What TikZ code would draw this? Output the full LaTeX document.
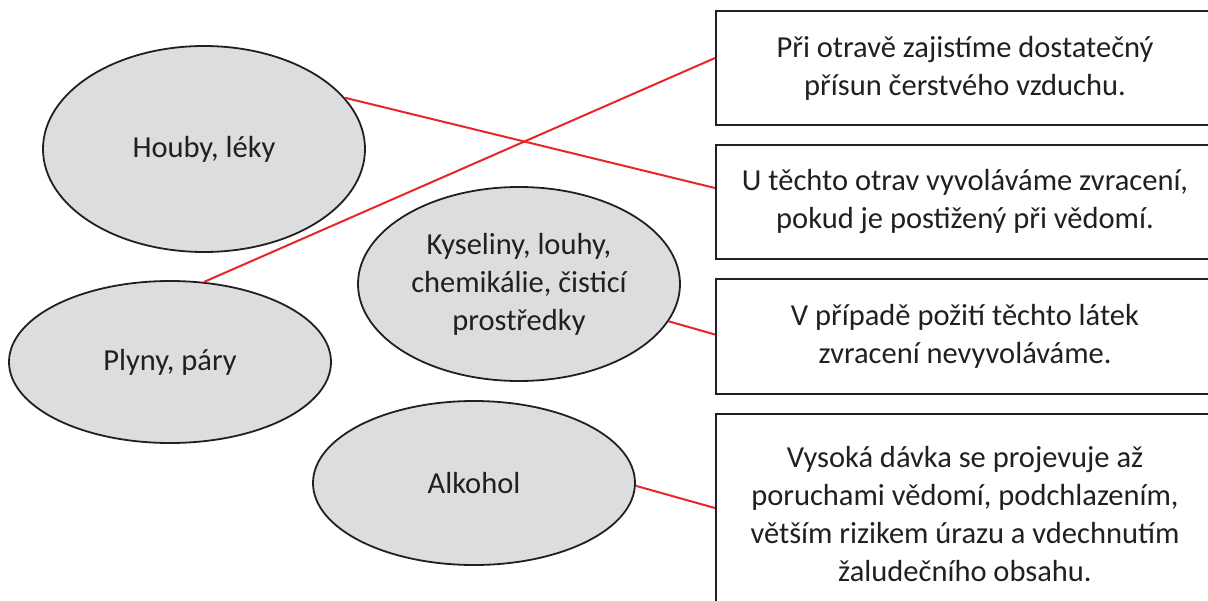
\documentclass[tikz,border=0pt]{standalone}
\usepackage{fontspec}
\setmainfont{Carlito}
\usetikzlibrary{shapes.geometric,calc}
\definecolor{ink}{HTML}{231F20}
\definecolor{bubble}{HTML}{DCDDDF}
\definecolor{link}{HTML}{E8262A}
\begin{document}
\begin{tikzpicture}[x=1pt,y=-1pt,
  txt/.style={text=ink,align=center,font=\fontsize{30.5}{38}\selectfont},
  bubblenode/.style={ellipse,draw=ink,line width=1.8pt,fill=bubble,inner sep=0pt,minimum width=322pt,txt},
  notebox/.style={rectangle,draw=ink,line width=2pt,fill=white,inner sep=0pt,minimum width=498pt,anchor=north west,txt},
  % a taller first line pushes the text a little below the box middle
  notelow/.style={execute at begin node={\rule{0pt}{40pt}}},
  linkline/.style={draw=link,line width=2pt}]
\useasboundingbox (0,0) rectangle (1208,600);
\clip (0,0) rectangle (1208,600);

% substances
\node[bubblenode,minimum height=206pt] (houby) at (204,149) {Houby, léky};
\node[bubblenode,minimum height=162pt] (plyny) at (170,362) {Plyny, páry};
\node[bubblenode,minimum height=194pt] (kys) at (519,284) {Kyseliny, louhy,\\chemikálie, čisticí\\prostředky};
\node[bubblenode,minimum height=164pt] (alk) at (474,483) {Alkohol};

% first-aid notes
\node[notebox,notelow,minimum height=114pt] (b1) at (715,10) {Při otravě zajistíme dostatečný\\přísun čerstvého vzduchu.};
\node[notebox,notelow,minimum height=114pt] (b2) at (715,144) {U těchto otrav vyvoláváme zvracení,\\pokud je postižený při vědomí.};
\node[notebox,notelow,minimum height=115pt] (b3) at (715,278) {V případě požití těchto látek\\zvracení nevyvoláváme.};
\node[notebox,minimum height=200pt] (b4) at (715,413) {Vysoká dávka se projevuje až\\poruchami vědomí, podchlazením,\\větším rizikem úrazu a vdechnutím\\žaludečního obsahu.};

% links
\draw[linkline] (houby.20.9) -- ($(b2.west)+(0,-14)$);
\draw[linkline] (plyny.67.8) -- ($(b1.west)+(0,-10)$);
\draw[linkline] (kys.-14.4) -- ($(b3.west)+(0,-2)$);
\draw[linkline] (alk.-1.8) -- ($(b4.west)+(0,-6)$);
\end{tikzpicture}
\end{document}
